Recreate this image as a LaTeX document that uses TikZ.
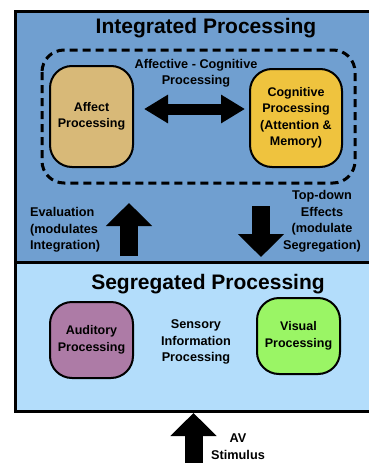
\documentclass[tikz,border=0pt]{standalone}
\usepackage{fontspec}
\setmainfont{Liberation Sans}
\usetikzlibrary{arrows.meta}
\definecolor{upperblue}{HTML}{709FD0}
\definecolor{lowerblue}{HTML}{B3DDFB}
\definecolor{affectc}{HTML}{D8B978}
\definecolor{cogc}{HTML}{EFC33E}
\definecolor{audc}{HTML}{AD7BA6}
\definecolor{visc}{HTML}{9AF565}
\tikzset{
  procbox/.style={draw=black, line width=2pt, rounded corners=22pt, align=center,
    font=\fontsize{12.5}{16.5}\selectfont\bfseries, inner sep=2pt},
  lbl/.style={align=center, font=\fontsize{12.7}{16.5}\selectfont\bfseries, inner sep=0pt},
  ttl/.style={font=\fontsize{21}{24}\selectfont\bfseries, inner sep=0pt},
  blockarrow/.style={line width=18pt, -{Triangle[length=23pt,width=45pt]}},
}
\begin{document}
\begin{tikzpicture}[x=1pt,y=-1pt]
\useasboundingbox (0,0) rectangle (369,463);
% panels
\fill[upperblue] (15.5,11.3) rectangle (380,262.3);
\fill[lowerblue] (15.5,262.3) rectangle (380,411.5);
\draw[line width=3pt] (380,11.3) -- (15.5,11.3) -- (15.5,411.5) -- (380,411.5);
\draw[line width=3.2pt] (15.5,262.3) -- (380,262.3);
% titles
\node[ttl, anchor=base] (t1) at (206,33) {Integrated Processing};
\node[ttl, anchor=base] (t2) at (208,289) {Segregated Processing};
% dashed group
\draw[line width=3pt, dash pattern=on 8pt off 5pt, rounded corners=22pt] (42,50) rectangle (355,183);
\node[lbl] (affcog) at (196,73) {Affective - Cognitive\\Processing};
% boxes
\node[procbox, fill=affectc, minimum width=83pt, minimum height=101pt] (affect) at (91.5,116.5) {Affect\\Processing};
\node[procbox, fill=cogc, minimum width=92pt, minimum height=98pt] (cog) at (296,118) {Cognitive\\Processing\\(Attention \&\\Memory)};
\node[procbox, fill=audc, minimum width=83pt, minimum height=76pt] (aud) at (91.5,340) {Auditory\\Processing};
\node[procbox, fill=visc, minimum width=83pt, minimum height=76pt] (vis) at (298.5,336) {Visual\\Processing};
\node[lbl] (sens) at (196,342) {Sensory\\Information\\Processing};
% double arrow
\coordinate (da1) at (144,109);
\coordinate (da2) at (245,109);
\draw[line width=11pt, {Triangle[length=24pt,width=27pt]}-{Triangle[length=24pt,width=27pt]}] (da1) -- (da2);
% evaluation arrow
\coordinate (ua1) at (129,256);
\coordinate (ua2) at (129,203);
\draw[blockarrow] (ua1) -- (ua2);
\node[lbl, align=left, anchor=west] (eval) at (30,230) {Evaluation\\(modulates\\Integration)};
% top-down arrow
\coordinate (dn1) at (261,206);
\coordinate (dn2) at (261,257);
\draw[blockarrow] (dn1) -- (dn2);
\node[lbl] (topdown) at (322,221) {Top-down\\Effects\\(modulate\\Segregation)};
% AV arrow
\coordinate (av1) at (193.5,470);
\coordinate (av2) at (193.5,413);
\draw[blockarrow] (av1) -- (av2);
\node[lbl] (avs) at (238,446.5) {AV\\Stimulus};
\end{tikzpicture}
\end{document}
